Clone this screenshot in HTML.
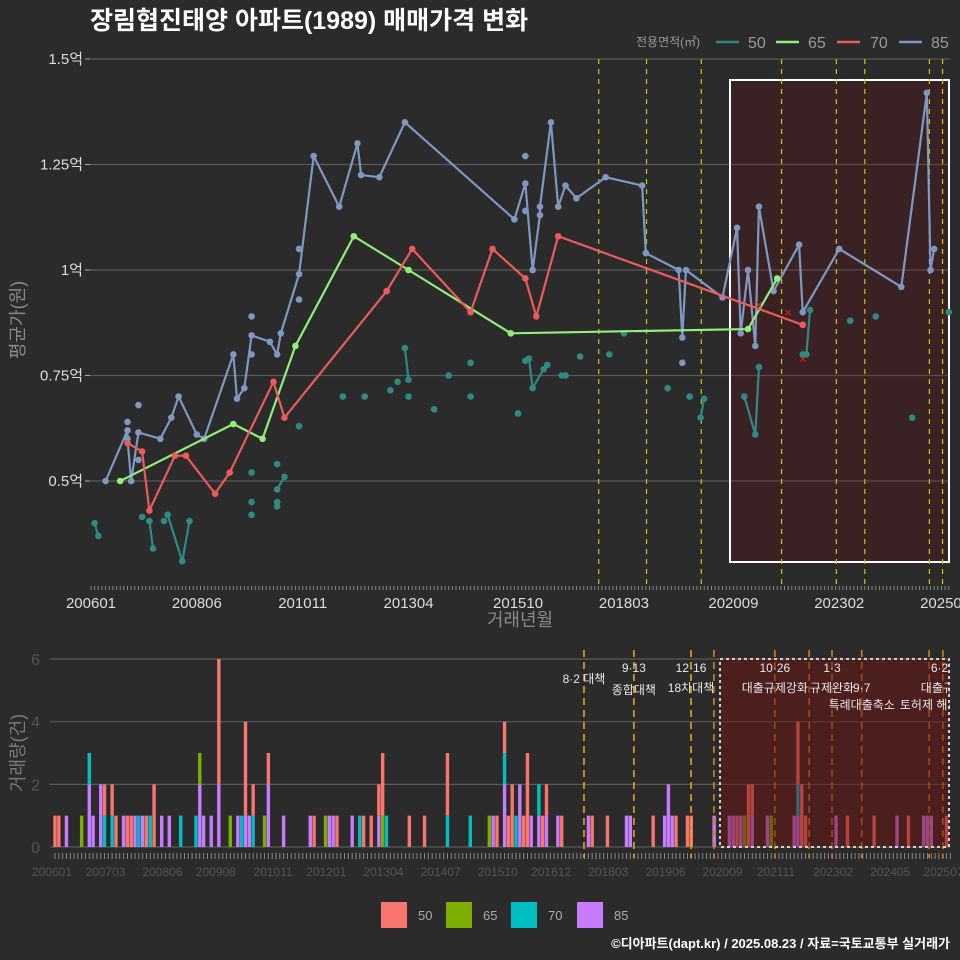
<!DOCTYPE html>
<html><head><meta charset="utf-8">
<style>
html,body{margin:0;padding:0;background:#2b2b2b;}
svg{display:block;font-family:"Liberation Sans","Noto Sans CJK KR",sans-serif;}
</style></head>
<body>
<svg id="c" width="960" height="960" viewBox="0 0 960 960" xmlns="http://www.w3.org/2000/svg">
<rect x="0" y="0" width="960" height="960" fill="#2b2b2b"/>
<text x="90" y="29" fill="#ffffff" font-size="25" font-weight="bold">장림협진태양 아파트(1989) 매매가격 변화</text>
<g id="legendTop">
<text x="636" y="46" fill="#999" font-size="12">전용면적(㎡)</text>
</g>
<g id="topPanel"></g>
<g id="bottomPanel"></g>
<text transform="translate(24,320) rotate(-90)" text-anchor="middle" fill="#8a8a8a" font-size="18">평균가(원)</text>
<text x="520" y="626" text-anchor="middle" fill="#8a8a8a" font-size="18">거래년월</text>
<text transform="translate(24,753) rotate(-90)" text-anchor="middle" fill="#7a7a7a" font-size="18">거래량(건)</text>
<g id="legendBottom"></g>
<text x="950" y="948" text-anchor="end" fill="#ffffff" font-size="13" font-weight="bold">©디아파트(dapt.kr) / 2025.08.23 / 자료=국토교통부 실거래가</text>
</svg>
<script>
// ---- data (months since 2006-01) ----
const m85=[4,10,10,11,13,19,22,24,29,31,39,40,42,44,49,51,52,57,61,68,73,74,79,86,116,119,121,123,123,126,128,130,133,141,151,152,161,162,163,173,177,178,180,182,183,187,194,195,205,222,229,230,231];
const v85=[0.50,0.62,0.60,0.50,0.615,0.60,0.65,0.70,0.61,0.60,0.80,0.695,0.72,0.845,0.83,0.80,0.85,0.99,1.27,1.15,1.30,1.225,1.22,1.35,1.12,1.205,1.00,1.13,1.15,1.35,1.15,1.20,1.17,1.22,1.20,1.04,1.00,0.84,1.00,0.935,1.10,0.85,1.00,0.82,1.15,0.95,1.06,0.90,1.05,0.96,1.42,1.00,1.05];
const mx85=[10,13,13,44,44,57,57,119,119,162];
const vx85=[0.64,0.68,0.55,0.89,0.80,0.93,1.05,1.27,1.14,0.78];
const m65=[8,39,47,56,72,87,115,180,188];
const v65=[0.50,0.635,0.60,0.82,1.08,1.00,0.85,0.86,0.98];
const m70=[10,14,16,23,26,34,38,50,53,81,88,104,110,119,122,128,195];
const v70=[0.59,0.57,0.43,0.56,0.56,0.47,0.52,0.735,0.65,0.95,1.05,0.90,1.05,0.98,0.89,1.08,0.87];
const mc70=[183,191,195];
const vc70=[0.92,0.90,0.79];
const m50=[1,2,14,16,17,20,21,25,27,44,44,44,51,51,51,51,53,57,69,75,82,84,86,87,87,94,98,104,104,117,119,120,121,124,125,129,130,134,142,146,158,164,167,168,179,182,183,195,196,197,208,215,225,235];
const v50=[0.40,0.37,0.415,0.405,0.34,0.405,0.42,0.31,0.405,0.52,0.45,0.42,0.54,0.45,0.44,0.48,0.51,0.63,0.70,0.70,0.715,0.735,0.815,0.74,0.70,0.67,0.75,0.78,0.70,0.66,0.785,0.79,0.72,0.765,0.775,0.75,0.75,0.795,0.80,0.85,0.72,0.70,0.65,0.695,0.70,0.61,0.77,0.80,0.80,0.905,0.88,0.89,0.65,0.90];
const g50=[1,1,0,2,2,0,3,3,3,0,0,0,0,0,0,4,4,0,0,0,0,0,5,5,0,0,0,0,0,0,6,6,6,6,6,0,0,0,0,0,0,0,7,7,8,8,8,9,9,9,0,0,0,0];
const topTickMonths=[0,29,58,87,117,146,176,205,234];
const topTickLabels=["200601","200806","201011","201304","201510","201803","202009","202302","202507"];
const yTicks=[0.5,0.75,1,1.25,1.5];
const yTickLabels=["0.5억","0.75억","1억","1.25억","1.5억"];
const topEventMonths=[139.1,152.2,167.2,189.2,204.2,212,229.7,233.3];
const barMonths=[0,1,3,7,9,10,12,13,15,16,18,19,20,21,22,23,24,25,26,28,30,33,37,38,39,41,43,46,48,49,50,51,52,55,56,60,67,68,71,72,73,74,78,80,81,83,85,86,87,93,97,103,109,114,115,116,118,119,120,121,122,123,124,125,127,128,129,132,133,140,141,145,150,151,157,160,161,162,163,166,167,173,177,178,179,180,181,182,183,187,188,194,195,196,197,205,208,215,221,224,228,229,230,234];
const n85=[0,0,1,0,2,1,2,0,0,0,1,0,0,1,0,1,0,0,0,1,1,0,0,2,1,1,2,0,1,0,1,1,0,0,2,1,1,0,0,1,1,0,1,0,0,0,1,0,0,0,0,0,0,0,1,0,2,0,0,0,2,0,0,1,1,0,1,1,0,1,0,0,1,1,0,1,2,1,0,0,0,1,1,1,0,1,0,0,1,1,0,1,1,0,0,1,0,0,1,0,1,1,1,0];
const n70=[0,0,0,0,1,0,0,1,1,0,0,0,0,0,1,0,0,1,0,0,0,1,1,0,0,0,0,0,0,1,0,0,1,0,0,0,0,0,0,0,0,0,0,1,0,0,0,0,1,0,0,1,1,0,0,0,1,0,0,1,0,0,0,0,1,0,0,0,0,0,0,0,0,0,0,0,0,0,0,0,0,0,0,0,0,0,0,0,0,0,0,0,1,0,0,0,0,0,0,0,0,0,0,0];
const n65=[0,0,0,1,0,0,0,0,0,0,0,0,0,0,0,0,0,0,0,0,0,0,0,1,0,0,0,1,0,0,0,0,0,1,0,0,0,0,1,0,0,0,0,0,0,0,0,1,0,0,0,0,0,1,0,0,0,0,0,0,0,0,0,0,0,0,0,0,0,0,0,0,0,0,0,0,0,0,0,0,0,0,0,0,0,0,1,0,0,0,1,0,0,0,0,0,0,0,0,0,0,0,0,0];
const n50=[1,1,0,0,0,0,0,1,1,1,0,1,1,0,0,0,1,0,2,0,0,0,0,0,0,0,4,0,0,0,3,0,1,0,1,0,0,1,0,0,0,1,0,0,1,1,1,2,0,1,1,2,0,0,0,1,1,1,2,0,0,1,3,0,0,1,1,0,1,0,1,1,0,0,1,0,0,0,1,1,1,0,0,0,1,0,0,2,1,0,0,0,2,2,1,0,1,1,0,1,0,0,0,1];
const botTickMonths=[0,14,29,43,58,72,87,102,117,131,146,161,176,190,205,220,234];
const botTickLabels=["200601","200703","200806","200908","201011","201201","201304","201407","201510","201612","201803","201906","202009","202111","202302","202405","202507"];
const volTicks=[0,2,4,6];
const botEventMonths=[139.1,152.2,167.2,173.2,189.2,198.2,204.2,212,229.7,233.3];
const eventLabels=[["8·2 대책",139.1,679],["9·13",152.2,668],["종합대책",152.2,690],["12·16",167.2,668],["18차대책",167.2,688],["10·26",189.2,668],["대출규제강화",189.2,688],["1·3",204.2,668],["규제완화",204.2,688],["9·7",212,688],["특례대출축소",212,705],["토허제 해제",229.7,705],["6·27",233.3,668],["대출규제",233.3,688]];

const NS="http://www.w3.org/2000/svg";
function mk(parent,tag,attrs){const e=document.createElementNS(NS,tag);for(const k in attrs)e.setAttribute(k,attrs[k]);parent.appendChild(e);return e;}
const X=m=>91+3.65*m;
const Y=v=>270-(v-1)*422;
const BX=m=>55+3.81*m;
const BY=n=>847-31.33*n;
const topG=document.getElementById('topPanel');
const botG=document.getElementById('bottomPanel');
const C={50:"#2f8a84",65:"#90ee7a",70:"#ec5b5b",85:"#7e98c4"};

yTicks.forEach((t,i)=>{
  const l=mk(topG,'line',{x1:90,x2:950,y1:Y(t),y2:Y(t),stroke:'#5a5a5a','stroke-width':1.2});
  
  
  const tk=mk(topG,'line',{x1:85,x2:90,y1:Y(t),y2:Y(t),stroke:'#aaa'});
  
  
  const tx=mk(topG,'text',{x:83,y:Y(t)+5,'text-anchor':'end',fill:'#ddd','font-size':15});
  tx.textContent=yTickLabels[i];
  
  
});
for(let m=0;m<=235;m++){
  const t=mk(topG,'line',{x1:X(m),x2:X(m),y1:586,y2:590,stroke:'#888','stroke-width':1});
  
  
}
topTickMonths.forEach((m,i)=>{
  const tx=mk(topG,'text',{x:X(m),y:608,'text-anchor':'middle',fill:'#ddd','font-size':15});
  tx.textContent=topTickLabels[i];
  
  
});
const box=mk(topG,'rect',{x:730,y:80,width:219,height:482,fill:'rgba(120,0,10,0.2)',stroke:'#ffffff','stroke-width':2});


topEventMonths.forEach(m=>{
  const l=mk(topG,'line',{x1:X(m),x2:X(m),y1:59,y2:588,stroke:'#c8c800','stroke-width':1.2,'stroke-dasharray':'5,5'});
  
  
});
function series(ms,vs,color,name,groups){
  const g=mk(topG,'g',{});
  
  
  if(groups){
    const ids=[...new Set(groups.filter(x=>x>0))];
    ids.forEach(id=>{
      const pts=ms.map((m,i)=>groups[i]===id?X(m)+','+Y(vs[i]):null).filter(Boolean).join(' ');
      const p=mk(g,'polyline',{points:pts,fill:'none',stroke:color,'stroke-width':2.2});
      
      
    });
  } else {
    const p=mk(g,'polyline',{points:ms.map((m,i)=>X(m)+','+Y(vs[i])).join(' '),fill:'none',stroke:color,'stroke-width':2.2});
    
    
  }
  ms.forEach((m,i)=>{
    const c=mk(g,'circle',{cx:X(m),cy:Y(vs[i]),r:3.3,fill:color});
    
    
  });
}
series(m50,v50,C[50],'series-50',g50);
series(m85,v85,C[85],'series-85');
const gx=mk(topG,'g',{});


mx85.forEach((m,i)=>{
  const c=mk(gx,'circle',{cx:X(m),cy:Y(vx85[i]),r:3.3,fill:C[85]});
  
  
});
series(m65,v65,C[65],'series-65');
series(m70,v70,C[70],'series-70');
mc70.forEach((m,i)=>{
  const t=mk(topG,'text',{x:X(m),y:Y(vc70[i])+5,'text-anchor':'middle',fill:'#e02020','font-size':13});
  t.textContent='×';
  
  
});

const lg=document.getElementById('legendTop');
[[50,716,748],[65,776,808],[70,837,870],[85,899,931]].forEach(([k,lx,tx])=>{
  const l=mk(lg,'line',{x1:lx,x2:lx+23,y1:42,y2:42,stroke:C[k],'stroke-width':2.5});
  
  
  const t=mk(lg,'text',{x:tx,y:48,fill:'#999','font-size':16});
  t.textContent=k;
  
  
});

volTicks.forEach(t=>{
  const l=mk(botG,'line',{x1:50,x2:950,y1:BY(t),y2:BY(t),stroke:'#5a5a5a','stroke-width':1.2});
  
  
  const tx=mk(botG,'text',{x:40,y:BY(t)+6,'text-anchor':'end',fill:'#555','font-size':16});
  tx.textContent=t;
  
  
});
for(let m=0;m<=235;m++){
  const t=mk(botG,'line',{x1:BX(m),x2:BX(m),y1:853,y2:859,stroke:'#888','stroke-width':1});
  
  
}
botTickMonths.forEach((m,i)=>{
  const tx=mk(botG,'text',{x:BX(m)-3,y:876,'text-anchor':'middle',fill:'#555','font-size':12});
  tx.textContent=botTickLabels[i];
  
  
});
const BC={50:"#f8766d",65:"#7cae00",70:"#00bfc4",85:"#c77cff"};
barMonths.forEach((m,i)=>{
  let base=0;
  [[85,n85],[70,n70],[65,n65],[50,n50]].forEach(([k,arr])=>{
    const n=arr[i]; if(!n) return;
    const r=mk(botG,'rect',{x:BX(m)-1.7,y:BY(base+n),width:3.4,height:BY(base)-BY(base+n),fill:BC[k]});
    
    
    base+=n;
  });
});
botEventMonths.forEach((m,i)=>{
  const l=mk(botG,'line',{x1:BX(m)-1,x2:BX(m)-1,y1:650,y2:858,stroke:i<3?'#e3a70f':'#d2820f','stroke-width':1.6,'stroke-dasharray':'7,5'});
  
  
});
const bbox=mk(botG,'rect',{x:720,y:659,width:229,height:188,fill:'rgba(110,18,18,0.5)',stroke:'#d0d0d0','stroke-width':2,'stroke-dasharray':'3,3'});


eventLabels.forEach(([s,m,y])=>{
  const t=mk(botG,'text',{x:BX(m)-1,y:y+4,'text-anchor':'middle',fill:'#e8e8e8','font-size':12});
  t.textContent=s;
  
  
});
const cover=mk(botG,'rect',{x:950,y:650,width:10,height:70,fill:'#2b2b2b'});



const lb=document.getElementById('legendBottom');
[[50,381],[65,446],[70,511],[85,577]].forEach(([k,x])=>{
  const r=mk(lb,'rect',{x:x,y:902,width:26,height:26,fill:BC[k]});
  
  
  const t=mk(lb,'text',{x:x+37,y:920,fill:'#aaa','font-size':13});
  t.textContent=k;
  
  
});
</script>
</body></html>
